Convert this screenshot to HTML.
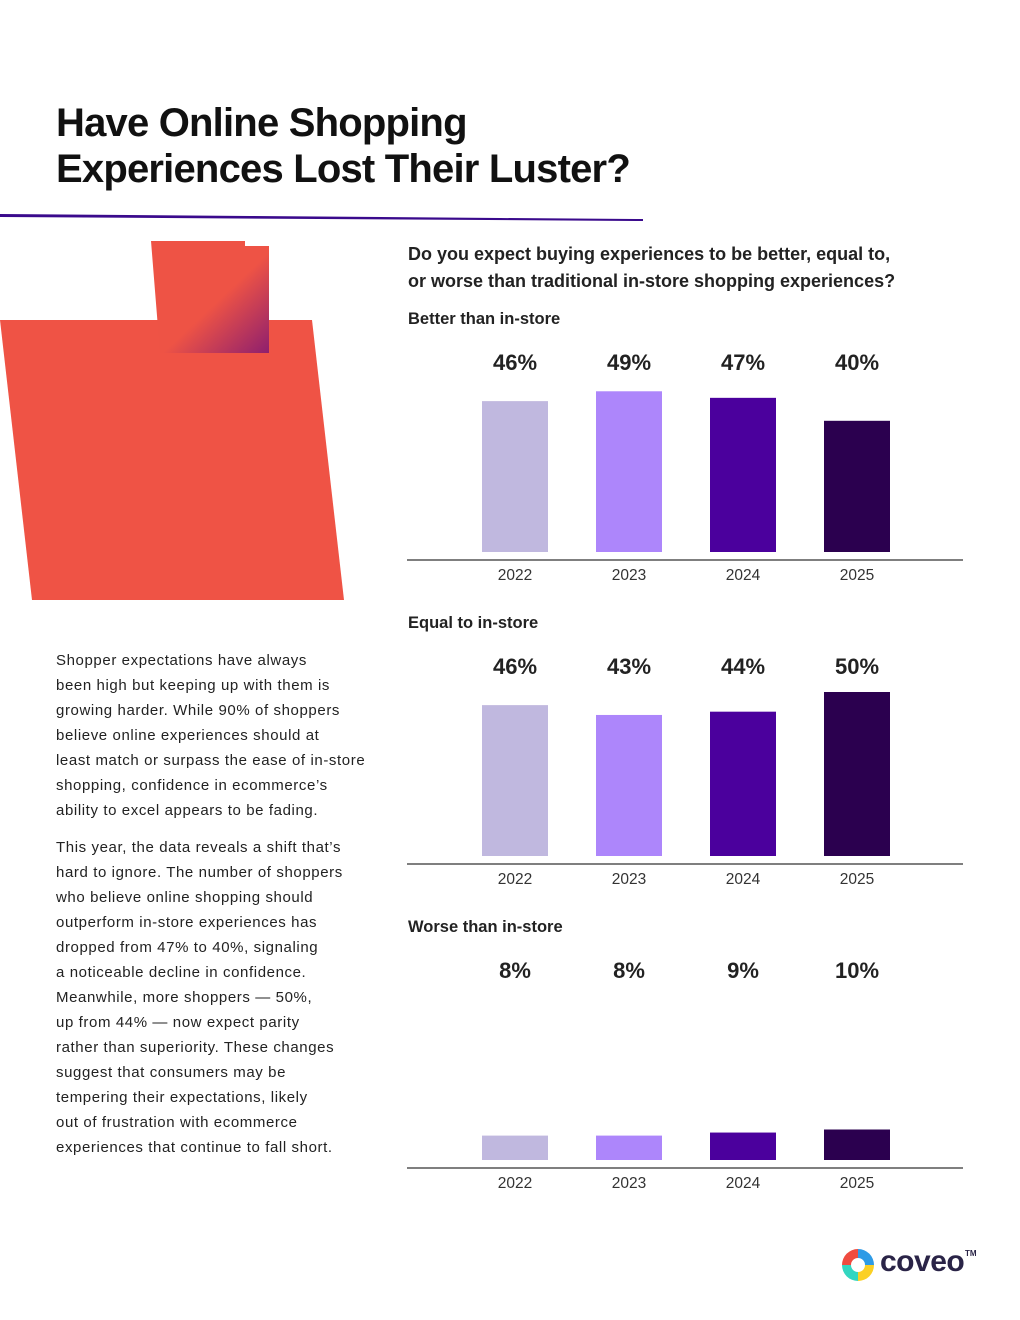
<!DOCTYPE html>
<html><head><meta charset="utf-8"><style>
body{margin:0;width:1020px;height:1320px;background:#fff;font-family:"Liberation Sans",sans-serif;position:relative;overflow:hidden}
.t{position:absolute;color:#111}
h1{position:absolute;left:56px;top:100px;margin:0;font-size:40px;line-height:46px;font-weight:bold;color:#111;letter-spacing:-0.8px}
.body{position:absolute;left:56px;width:340px;font-size:15px;line-height:25px;color:#222;margin:0;letter-spacing:0.6px;white-space:nowrap}
</style></head><body>
<h1>Have Online Shopping<br>Experiences Lost Their Luster?</h1>
<svg width="1020" height="620" style="position:absolute;left:0;top:0">
<defs><linearGradient id="g" x1="0" y1="0" x2="1" y2="1"><stop offset="0.55" stop-color="#ee5345"/><stop offset="1" stop-color="#8e1f6e"/></linearGradient></defs>
<polygon points="0,214 250,216 500,218 643,219 643,221 0,217" fill="#3a0a8c"/>
<polygon points="0,320 312,320 344,600 32,600" fill="#ef5345"/>
<polygon points="151,241 245,241 245,246 269,246 269,353 160,353" fill="url(#g)"/>
</svg>
<p class="body" style="top:648px">Shopper expectations have always<br>been high but keeping up with them is<br>growing harder. While 90% of shoppers<br>believe online experiences should at<br>least match or surpass the ease of in-store<br>shopping, confidence in ecommerce’s<br>ability to excel appears to be fading.</p>
<p class="body" style="top:835px">This year, the data reveals a shift that’s<br>hard to ignore. The number of shoppers<br>who believe online shopping should<br>outperform in-store experiences has<br>dropped from 47% to 40%, signaling<br>a noticeable decline in confidence.<br>Meanwhile, more shoppers — 50%,<br>up from 44% — now expect parity<br>rather than superiority. These changes<br>suggest that consumers may be<br>tempering their expectations, likely<br>out of frustration with ecommerce<br>experiences that continue to fall short.</p>
<div class="t" style="left:408px;top:241px;font-size:18px;line-height:27px;font-weight:bold;color:#222">Do you expect buying experiences to be better, equal to,<br>or worse than traditional in-store shopping experiences?</div>
<svg id="charts" width="1020" height="1320" style="position:absolute;left:0;top:0"></svg>
<div style="position:absolute;left:840px;top:1247px;width:140px;height:36px">
<svg width="36" height="36" style="position:absolute;left:0;top:0"><path d="M18 2A16 16 0 0 0 2 18H11A7 7 0 0 1 18 11Z" fill="#ef4b3f"/><path d="M18 2A16 16 0 0 1 34 18H25A7 7 0 0 0 18 11Z" fill="#2e9be6"/><path d="M2 18A16 16 0 0 0 18 34V25A7 7 0 0 1 11 18Z" fill="#33d6c0"/><path d="M34 18A16 16 0 0 1 18 34V25A7 7 0 0 0 25 18Z" fill="#fbd024"/></svg>
<span style="position:absolute;left:40px;top:-2px;font-size:30px;font-weight:bold;color:#2a2447;letter-spacing:-0.5px">coveo</span><span style="position:absolute;left:125px;top:2px;font-size:8px;font-weight:bold;color:#2a2447">TM</span>
</div>
<script>
const years=["2022","2023","2024","2025"];
const better=[46,49,47,40];
const equal=[46,43,44,50];
const worse=[8,8,9,10];
const colors=["#c0b8df","#ad86fb","#4b009d","#2b004f"];
const svg=document.getElementById('charts');
const NS="http://www.w3.org/2000/svg";
function mk(t,a){const e=document.createElementNS(NS,t);for(const k in a)e.setAttribute(k,a[k]);svg.appendChild(e);return e;}
const x=i=>482+i*114;
function chart(title,vals,base,name,scale){
  const h=v=>v*scale;
  const tt=mk('text',{x:408,y:base-228,'font-size':16.5,'font-weight':'bold',fill:'#222'});tt.textContent=title;
  
  
  const ax=mk('line',{x1:407,x2:963,y1:base+8,y2:base+8,stroke:'#333','stroke-width':1.2});
  
  
  vals.forEach((v,i)=>{
    const r=mk('rect',{x:x(i),y:base-h(v),width:66,height:h(v),fill:colors[i]});
    
    
    const l=mk('text',{x:x(i)+33,y:base-182,'font-size':22,'font-weight':'bold','text-anchor':'middle',fill:'#222'});l.textContent=v+'%';
    
    
    const y=mk('text',{x:x(i)+33,y:base+28,'font-size':15.5,'text-anchor':'middle',fill:'#333'});y.textContent=years[i];
    
    
  });
}
chart("Better than in-store",better,552,"better",3.28);
chart("Equal to in-store",equal,856,"equal",3.28);
chart("Worse than in-store",worse,1160,"worse",3.05);
</script>
</body></html>
